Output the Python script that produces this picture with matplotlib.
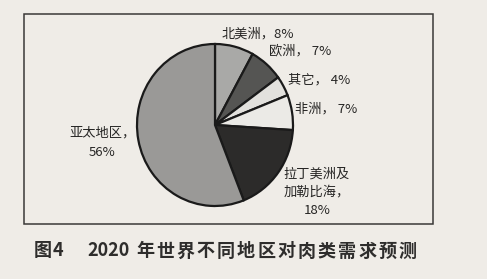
import matplotlib.pyplot as plt
from matplotlib.patches import Rectangle

plt.rcParams['font.family'] = ['Noto Sans CJK SC', 'DejaVu Sans']

# data
regions = ['北美洲', '欧洲', '其它', '非洲', '拉丁美洲及加勒比海', '亚太地区']
shares = [8, 7, 4, 7, 18, 56]
colors = ['#a9a9a7', '#555553', '#e2e1dd', '#ebeae6', '#2c2b2a', '#9a9997']
labels = ['北美洲，8%', '欧洲， 7%', '其它， 4%', '非洲， 7%',
          '拉丁美洲及\n加勒比海，\n18%', '亚太地区，\n56%']
title = '2020年世界不同地区对肉类需求预测'

W, H = 487, 279
bg = '#efece7'
ink = '#262524'


def fx(x):
    return x / W


def fy(y):
    return 1 - y / H


fig = plt.figure(figsize=(W / 100, H / 100), dpi=100, facecolor=bg)

# frame around the chart
fig.patches.append(Rectangle((fx(24), fy(224)), fx(433) - fx(24), fy(14) - fy(224),
                             transform=fig.transFigure, fill=False,
                             edgecolor='#3a3938', linewidth=1.1))

# pie (slightly taller than wide, like the scan)
cx, cy, rx, ry = 215, 125, 78, 81
ax = fig.add_axes([fx(cx - rx), fy(cy + ry), 2 * rx / W, 2 * ry / H])
ax.pie(shares, colors=colors, startangle=90, counterclock=False,
       wedgeprops=dict(edgecolor='#1a1a1a', linewidth=1.6))
ax.set_aspect('auto')
ax.set_xlim(-1.0, 1.0)
ax.set_ylim(-1.0, 1.0)
ax.axis('off')

# labels
fs = 9.5
fig.text(fx(222), fy(34), labels[0], fontsize=fs, color=ink, va='center', ha='left')
fig.text(fx(269), fy(51), labels[1], fontsize=fs, color=ink, va='center', ha='left')
fig.text(fx(288), fy(80), labels[2], fontsize=fs, color=ink, va='center', ha='left')
fig.text(fx(295), fy(109), labels[3], fontsize=fs, color=ink, va='center', ha='left')
fig.text(fx(317), fy(192), labels[4], fontsize=fs, color=ink, va='center', ha='center',
         linespacing=1.5)
fig.text(fx(102), fy(143), labels[5], fontsize=fs, color=ink, va='center', ha='center',
         linespacing=1.6)

# caption, spaced out like the print
tfs = 13
tc = '#2e2d2c'
fig.text(fx(34), fy(251), '图', fontsize=tfs, color=tc, va='center', ha='left', fontweight='bold')
fig.text(fx(53), fy(251), '4', fontsize=tfs, color=tc, va='center', ha='left', fontweight='bold')
fig.text(fx(87), fy(251), title[:4], fontsize=tfs, color=tc, va='center', ha='left', fontweight='bold')
for i, ch in enumerate(title[4:]):
    fig.text(fx(136 + i * 20.2), fy(251), ch, fontsize=tfs, color=tc,
             va='center', ha='left', fontweight='bold')

fig.savefig('out.png', dpi=100, facecolor=bg)
